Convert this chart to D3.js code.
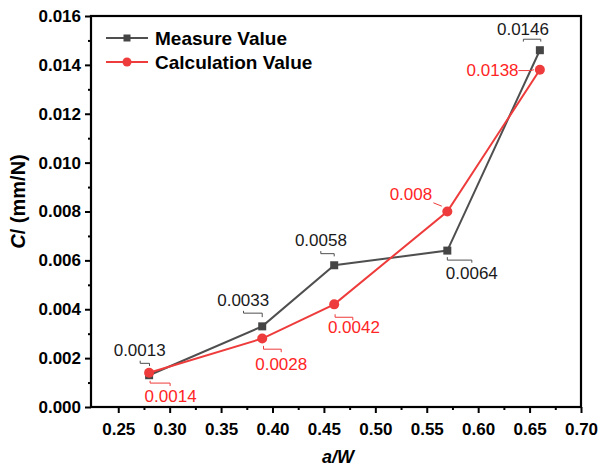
<!DOCTYPE html>
<html>
<head>
<meta charset="utf-8">
<script src="https://cdn.jsdelivr.net/npm/d3@7"></script>
<style>
  body { margin: 0; background: #fff; }
  svg { display: block; }
  text { font-family: "Liberation Sans", Arial, sans-serif; }
</style>
</head>
<body>
<svg id="chart" width="601" height="469"></svg>
<script>
// Compliance C versus crack ratio a/W
const ratios = [0.28, 0.39, 0.46, 0.57, 0.66];
const measured = [0.0013, 0.0033, 0.0058, 0.0064, 0.0146];
const calculated = [0.0014, 0.0028, 0.0042, 0.008, 0.0138];
const seriesNames = ["Measure Value", "Calculation Value"];
const xTickValues = [0.25, 0.30, 0.35, 0.40, 0.45, 0.50, 0.55, 0.60, 0.65, 0.70];
const yTickValues = [0, 0.002, 0.004, 0.006, 0.008, 0.010, 0.012, 0.014, 0.016];
const xTitle = "a/W";
const yTitle = "C/ (mm/N)";

// Layout
const box = { left: 91, right: 581, top: 16, bottom: 407 };
const grey = "#4f4f4f", red = "#ee3b3b", redText = "#ff2525";

const svg = d3.select("#chart");
const x = d3.scaleLinear().domain([0.2235, 0.70]).range([box.left, box.right]);
const y = d3.scaleLinear().domain([0, 0.016]).range([box.bottom, box.top]);

// Minor ticks halfway between majors
const xMinor = d3.range(0.275, 0.70, 0.05);
const yMinor = d3.range(0.001, 0.016, 0.002);

const tickFont = "bold 17px 'Liberation Sans', Arial, sans-serif";

// Bottom axis
const gx = svg.append("g").attr("transform", `translate(0,${box.bottom})`);
gx.call(d3.axisBottom(x).tickValues(xTickValues).tickSize(6).tickPadding(10)
    .tickFormat(d3.format(".2f")));
gx.append("g").call(d3.axisBottom(x).tickValues(xMinor).tickSize(3).tickFormat(""));
// Left axis
const gy = svg.append("g").attr("transform", `translate(${box.left},0)`);
gy.call(d3.axisLeft(y).tickValues(yTickValues).tickSize(6).tickPadding(4)
    .tickFormat(d3.format(".3f")));
gy.append("g").call(d3.axisLeft(y).tickValues(yMinor).tickSize(3).tickFormat(""));

svg.selectAll(".domain").remove();
svg.selectAll(".tick line").attr("stroke", "#000").attr("stroke-width", 2);
svg.selectAll(".tick text").attr("fill", "#000").style("font", tickFont);

// Frame
svg.append("rect")
  .attr("x", box.left).attr("y", box.top)
  .attr("width", box.right - box.left).attr("height", box.bottom - box.top)
  .attr("fill", "none").attr("stroke", "#000").attr("stroke-width", 2.2);

// Axis titles
svg.append("text")
  .attr("x", (box.left + box.right) / 2 + 2).attr("y", 463)
  .attr("text-anchor", "middle")
  .style("font", "italic bold 18px 'Liberation Sans', Arial, sans-serif")
  .text(xTitle);
svg.append("text")
  .attr("transform", `translate(25,${(box.top + box.bottom) / 2 - 10}) rotate(-90)`)
  .attr("text-anchor", "middle")
  .style("font", "bold 20px 'Liberation Sans', Arial, sans-serif")
  .call(t => {
    t.append("tspan").style("font-style", "italic").text(yTitle.slice(0, 1));
    t.append("tspan").text(yTitle.slice(1));
  });

// Series
const line = d3.line().x(d => x(d[0])).y(d => y(d[1]));
const measuredPts = ratios.map((r, i) => [r, measured[i]]);
const calculatedPts = ratios.map((r, i) => [r, calculated[i]]);

svg.append("path").datum(measuredPts).attr("d", line)
  .attr("fill", "none").attr("stroke", grey).attr("stroke-width", 2);
svg.append("path").datum(calculatedPts).attr("d", line)
  .attr("fill", "none").attr("stroke", red).attr("stroke-width", 2);

svg.append("g").selectAll("rect").data(measuredPts).join("rect")
  .attr("x", d => x(d[0]) - 4).attr("y", d => y(d[1]) - 4)
  .attr("width", 8).attr("height", 8).attr("fill", "#454545");
svg.append("g").selectAll("circle").data(calculatedPts).join("circle")
  .attr("cx", d => x(d[0])).attr("cy", d => y(d[1])).attr("r", 5).attr("fill", red);

// Value labels: text offset (centre, baseline) and leader path, relative to the point
const measuredLabelLayout = [
  { t: [-9.4, -19.5], lead: [[-8.9, -14.5], [-8.9, -11.9], [0.4, -11.9], [0.4, -9.2]] },
  { t: [-19, -20.2], lead: [[-18.7, -15.5], [-18.7, -13.2], [0, -13.2], [0, -9.2]] },
  { t: [-13.3, -19.2], lead: [[-13.4, -14.2], [-13.4, -11.6], [0, -11.6], [0, -8.9]] },
  { t: [24.5, 28.1], lead: [[0, 6.5], [0, 9.5], [24.5, 9.5], [24.5, 12.1]] },
  { t: [-16.9, -15.3], lead: [[-16.5, -8.6], [-16.5, -11], [0.9, -11], [0.9, -8.6]] }
];
const calculatedLabelLayout = [
  { t: [21.5, 29], lead: [[1, 8], [1, 10.3], [21, 10.3], [21, 13.3]] },
  { t: [19, 31.3], lead: [[1.3, 7.3], [1.3, 10.6], [19, 10.6], [19, 13.6]] },
  { t: [19.7, 28.2], lead: [[0.9, 9.9], [0.9, 12.9], [18.6, 12.9], [18.6, 15.9]] },
  { t: [-36.4, -12], lead: [[-13.9, -8.7], [-5.5, -5.3]] },
  { t: [-47.3, 5.8], lead: [[-21.5, 0.8], [-9.8, 0.8], [-5.8, 0]] }
];

function drawLabels(pts, layout, lineColor, textColor) {
  const g = svg.append("g");
  pts.forEach((d, i) => {
    const px = x(d[0]), py = y(d[1]);
    const L = layout[i];
    g.append("path")
      .attr("d", d3.line()(L.lead.map(p => [px + p[0], py + p[1]])))
      .attr("fill", "none").attr("stroke", lineColor).attr("stroke-width", 1);
    g.append("text")
      .attr("x", px + L.t[0]).attr("y", py + L.t[1])
      .attr("text-anchor", "middle").attr("fill", textColor)
      .style("font-size", "17px")
      .text(String(d[1]));
  });
}
drawLabels(measuredPts, measuredLabelLayout, grey, "#1a1a1a");
drawLabels(calculatedPts, calculatedLabelLayout, red, redText);

// Legend
const legend = svg.append("g");
const legendRows = [
  { name: seriesNames[0], color: grey, mark: "square", yy: 38 },
  { name: seriesNames[1], color: red, mark: "circle", yy: 62 }
];
legendRows.forEach(r => {
  legend.append("line").attr("x1", 106).attr("x2", 148).attr("y1", r.yy).attr("y2", r.yy)
    .attr("stroke", r.color).attr("stroke-width", 2);
  if (r.mark === "square") {
    legend.append("rect").attr("x", 123.5).attr("y", r.yy - 3.5).attr("width", 7).attr("height", 7)
      .attr("fill", "#454545");
  } else {
    legend.append("circle").attr("cx", 127).attr("cy", r.yy).attr("r", 4.5).attr("fill", r.color);
  }
  legend.append("text").attr("x", 155).attr("y", r.yy + 6.5)
    .style("font", "bold 19px 'Liberation Sans', Arial, sans-serif")
    .attr("fill", "#000").text(r.name);
});
</script>
</body>
</html>
